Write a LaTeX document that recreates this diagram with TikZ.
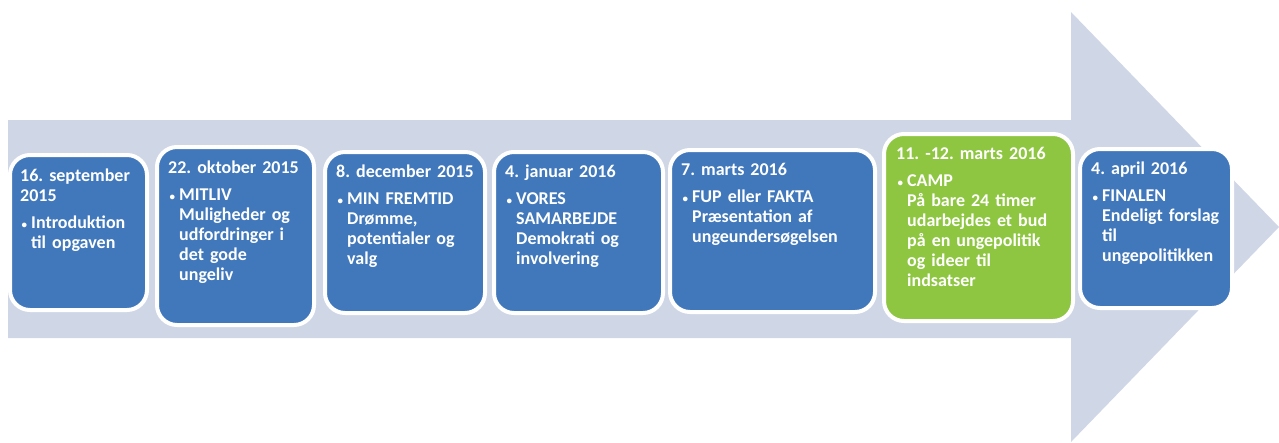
\documentclass[tikz,border=0pt]{standalone}
\usepackage{fontspec}
\setmainfont{Carlito}
\definecolor{arrowgray}{HTML}{CFD6E6}
\definecolor{cardblue}{HTML}{4178BB}
\definecolor{cardgreen}{HTML}{8EC641}
\tikzset{
  card/.style={draw=white, line width=4pt, rounded corners=20pt, fill=cardblue},
  cardtext/.style={anchor=north west, inner sep=0pt, text=white, align=left,
    font=\fontsize{18}{20}\selectfont\bfseries\frenchspacing}
}
\newcommand{\carditem}[1]{\par\vspace{7pt}\noindent\hspace*{11pt}\llap{{\fontsize{11}{11}\selectfont\textbullet}\hspace{4pt}}\begin{tabular}[t]{@{}l@{}}#1\end{tabular}}
\begin{document}
\begin{tikzpicture}[x=1pt,y=-1pt]
                \useasboundingbox (0,0) rectangle (1279,442);
                \fill[arrowgray] (8,120) -- (1071,120) -- (1071,12) -- (1279,227) -- (1071,442) -- (1071,338) -- (8,338) -- cycle;

                \node[card, minimum width=137pt, minimum height=155pt] (c1) at (78.5,232.5) {};
                \node[card, minimum width=157pt, minimum height=178pt] (c2) at (235.5,236) {};
                \node[card, minimum width=160pt, minimum height=161pt] (c3) at (405,232.5) {};
                \node[card, minimum width=169pt, minimum height=161pt] (c4) at (578.5,232.5) {};
                \node[card, minimum width=205pt, minimum height=162pt] (c5) at (772.5,231) {};
                \node[card, fill=cardgreen, minimum width=189pt, minimum height=187pt] (c6) at (978.5,227.5) {};
                \node[card, minimum width=152pt, minimum height=159pt] (c7) at (1156,228.5) {};

                \node[cardtext, text width=120pt] (t1) at ([shift={(12pt,-16pt)}]c1.north west)
                  {16. september\\2015\carditem{Introduktion\\til opgaven}};
                \node[cardtext, text width=135pt] (t2) at ([shift={(13pt,-16pt)}]c2.north west)
                  {22. oktober 2015\carditem{MITLIV\\Muligheder og\\udfordringer i\\det gode\\ungeliv}};
                \node[cardtext, text width=140pt] (t3) at ([shift={(13pt,-15pt)}]c3.north west)
                  {8. december 2015\carditem{MIN FREMTID\\Drømme,\\potentialer og\\valg}};
                \node[cardtext, text width=145pt] (t4) at ([shift={(13pt,-15pt)}]c4.north west)
                  {4. januar 2016\carditem{VORES\\SAMARBEJDE\\Demokrati og\\involvering}};
                \node[cardtext, text width=180pt] (t5) at ([shift={(13pt,-15pt)}]c5.north west)
                  {7. marts 2016\carditem{FUP eller FAKTA\\Præsentation af\\ungeundersøgelsen}};
                \node[cardtext, text width=165pt] (t6) at ([shift={(14pt,-15pt)}]c6.north west)
                  {11. -12. marts 2016\carditem{CAMP\\På bare 24 timer\\udarbejdes et bud\\på en ungepolitik\\og ideer til\\indsatser}};
                \node[cardtext, text width=135pt] (t7) at ([shift={(13pt,-15pt)}]c7.north west)
                  {4. april 2016\carditem{FINALEN\\Endeligt forslag\\til\\ungepolitikken}};
\end{tikzpicture}
\end{document}
